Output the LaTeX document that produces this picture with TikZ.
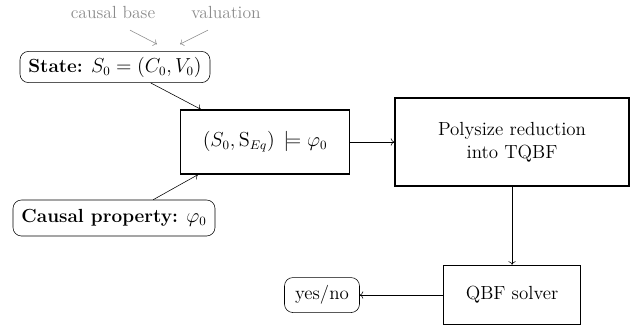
\documentclass[tikz,border=0pt]{standalone}
\usepackage{amsmath,amssymb}
\usepackage{tikz}
\usetikzlibrary{arrows.meta,positioning,calc}
\tikzset{every node/.append style={align=center}}
\definecolor{notegray}{HTML}{8C8C8C}

\begin{document}
\begin{tikzpicture}[>=To,
  every node/.style={font=\fontsize{13.5}{16.5}\selectfont, align=center},
  inbox/.style={draw, rounded corners=6pt, inner sep=2pt},
  stepbox/.style={draw, line width=1.1pt, inner sep=4pt},
  note/.style={text=notegray, font=\fontsize{12.5}{15}\selectfont}]
  \useasboundingbox (0,0) rectangle (16.025,8.275);
  \node[stepbox, minimum width=4.225cm, minimum height=1.6cm] (check) at (6.625,4.725) {$(S_0, \mathrm{S}_{Eq})\,\models\varphi_0$};
  \node[stepbox, right=1.1cm of check, minimum width=5.85cm, minimum height=2.2cm] (reduce) {Polysize reduction\\into TQBF};
  \node[stepbox, below=1.95cm of reduce, minimum width=3.425cm, minimum height=1.475cm] (solver) {QBF solver};
  \node[inbox, left=2.075cm of solver, minimum width=1.875cm, minimum height=0.875cm] (answer) {yes/no};
  \node[inbox, minimum width=4.75cm, minimum height=0.78cm] (state) at (2.875,6.6) {\textbf{State:} $S_0 = (C_0, V_0)$};
  \node[inbox, minimum width=5.05cm, minimum height=0.9cm] (prop) at (2.85,2.825) {\textbf{Causal property:} $\varphi_0$};
  \node[note] (base) at (2.825,7.975) {causal base};
  \node[note] (val) at (5.65,7.975) {valuation};
  \draw[->, notegray] ($(base.south)+(0.425,-0.175)$) -- ($(state.north)+(1.05,0.175)$);
  \draw[->, notegray] ($(val.south)+(-0.45,-0.175)$) -- ($(state.north)+(1.625,0.175)$);
  \draw[->] (state.-24) -- (check.153);
  \draw[->] (prop.25) -- (check.206);
  \draw[->] (check) -- (reduce);
  \draw[->] (reduce) -- (solver);
  \draw[->] (solver) -- (answer);
\end{tikzpicture}
\end{document}
